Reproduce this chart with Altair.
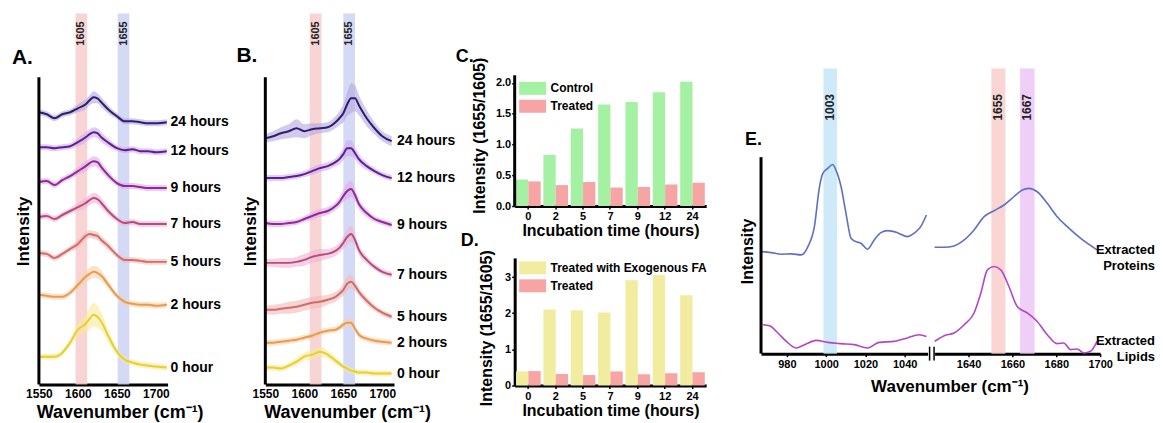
import altair as alt
import pandas as pd

FONT = "Liberation Sans"

# ---------------- shared series ----------------
SERIES = ["0 hour", "2 hours", "5 hours", "7 hours", "9 hours", "12 hours", "24 hours"]
LINE_COLORS = ["#e6cf2f", "#e89a52", "#d06c6a", "#b64b7f", "#8c2b94", "#5c1f8d", "#2e1d6d"]
FILL_COLORS = ["#f8ea98", "#f9d0a4", "#f2b9b5", "#eeb3d0", "#e3a6ea", "#cfa8ee", "#b4a7e0"]

# ---------------- Panel A (control spectra) ----------------
A_WN = [1550, 1560, 1570, 1580, 1590, 1600, 1610, 1615, 1620, 1625, 1630, 1640, 1650, 1660, 1670, 1680, 1690, 1700, 1714]
A_0H = [26, 26, 26, 30, 40, 53, 59, 64, 68, 66, 61, 45, 31, 23, 20, 18, 17, 16, 15]
A_2H = [88, 87, 86, 86, 90, 98, 106, 109, 111, 110, 107, 97, 87, 81, 79, 78, 78, 77, 78]
A_5H = [130, 129, 125, 129, 134, 139, 147, 149, 148, 147, 143, 136, 128, 123, 123, 122, 121, 121, 121]
A_7H = [166, 167, 164, 168, 172, 176, 180, 183, 185, 184, 180, 171, 164, 160, 161, 159, 159, 159, 159]
A_9H = [201, 202, 198, 203, 207, 212, 217, 220, 222, 221, 216, 207, 200, 197, 197, 196, 195, 195, 195]
A_12H = [236, 236, 235, 236, 237, 241, 246, 249, 251, 250, 246, 240, 235, 233, 234, 232, 232, 231, 232]
A_24H = [271, 269, 265, 269, 271, 275, 279, 283, 286, 285, 281, 273, 267, 262, 262, 261, 260, 260, 261]
A_SD_0H = [3, 3, 3, 3, 4, 7, 9, 11, 12, 11, 9, 6, 4, 3, 3, 3, 3, 3, 3]
A_SD_2H = [3, 3, 3, 3, 3, 4, 5, 6, 6, 6, 5, 4, 3, 3, 3, 3, 3, 3, 3]
A_SD_5H = [3, 3, 3, 3, 3, 4, 4, 4, 4, 4, 4, 4, 3, 3, 3, 3, 3, 3, 3]
A_SD_7H = [3, 3, 3, 3, 3, 4, 5, 5, 5, 5, 5, 4, 3, 3, 3, 3, 3, 3, 3]
A_SD_9H = [3, 3, 3, 3, 3, 4, 5, 5, 5, 5, 5, 4, 3, 3, 3, 3, 3, 3, 3]
A_SD_12H = [3, 3, 3, 3, 3, 4, 5, 5, 5, 5, 5, 4, 3, 3, 3, 3, 3, 3, 3]
A_SD_24H = [3, 3, 3, 3, 3, 4, 5, 5, 6, 5, 5, 4, 3, 3, 3, 3, 3, 3, 3]
A_BAND_LABELS = ["1605", "1655"]
A_BAND_START = [1597, 1651]
A_BAND_END = [1612, 1666]

# ---------------- Panel B (treated spectra) ----------------
B_WN = [1550, 1560, 1570, 1580, 1590, 1600, 1610, 1620, 1630, 1640, 1645, 1650, 1655, 1660, 1665, 1670, 1680, 1690, 1700, 1712]
B_0H = [15, 15, 14, 17, 21, 26, 28, 31, 28, 22, 19, 16, 14, 12, 11, 10, 10, 9, 9, 9]
B_2H = [40, 40, 41, 42, 43, 45, 47, 50, 52, 53, 55, 58, 60, 60, 54, 48, 44, 42, 41, 40]
B_5H = [73, 73, 74, 75, 76, 78, 80, 81, 83, 86, 89, 93, 99, 101, 97, 91, 82, 75, 70, 66]
B_7H = [120, 120, 120, 120, 121, 123, 126, 128, 129, 132, 135, 140, 146, 149, 143, 133, 123, 116, 111, 108]
B_9H = [160, 159, 159, 160, 161, 164, 167, 170, 172, 177, 181, 187, 192, 194, 188, 179, 170, 164, 161, 158]
B_12H = [205, 205, 205, 206, 207, 209, 212, 215, 217, 221, 224, 229, 235, 235, 230, 224, 217, 212, 208, 205]
B_24H = [245, 247, 250, 252, 255, 252, 254, 255, 256, 261, 265, 270, 279, 285, 285, 278, 265, 255, 247, 242]
B_SD_0H = [3, 3, 3, 3, 4, 4, 5, 5, 4, 4, 3, 3, 3, 3, 3, 3, 3, 3, 3, 3]
B_SD_2H = [3, 3, 3, 3, 3, 3, 3, 3, 3, 3, 3, 4, 4, 4, 3, 3, 3, 3, 3, 3]
B_SD_5H = [4, 5, 5, 6, 6, 6, 6, 6, 5, 5, 5, 6, 7, 7, 5, 4, 4, 3, 3, 3]
B_SD_7H = [4, 4, 5, 5, 5, 6, 6, 6, 5, 5, 5, 6, 8, 8, 6, 5, 4, 3, 3, 3]
B_SD_9H = [3, 3, 3, 3, 3, 3, 4, 4, 4, 4, 5, 6, 8, 8, 6, 5, 4, 3, 3, 3]
B_SD_12H = [3, 3, 3, 3, 3, 3, 4, 4, 4, 4, 5, 6, 8, 8, 6, 5, 4, 3, 3, 3]
B_SD_24H = [4, 5, 6, 7, 9, 7, 6, 5, 5, 6, 7, 9, 12, 15, 13, 10, 8, 6, 5, 5]
B_BAND_LABELS = ["1605", "1655"]
B_BAND_START = [1607, 1650]
B_BAND_END = [1622, 1665]

# ---------------- Panels C and D (ratios) ----------------
HOURS = ["0", "2", "5", "7", "9", "12", "24"]
C_GROUPS = ["Control", "Treated"]
C_CONTROL = [0.43, 0.83, 1.26, 1.65, 1.69, 1.85, 2.02]
C_TREATED = [0.40, 0.34, 0.39, 0.30, 0.31, 0.35, 0.38]
D_GROUPS = ["Treated with Exogenous FA", "Treated"]
D_EXOGENOUS = [0.39, 2.10, 2.08, 2.02, 2.91, 3.06, 2.50]
D_TREATED = [0.40, 0.32, 0.29, 0.39, 0.31, 0.34, 0.37]

# ---------------- Panel E (extracts) ----------------
E_SERIES = ["Extracted Proteins", "Extracted Lipids"]
E_PROT_L_WN = [967.0, 972.0, 977.1, 982.2, 987.3, 990.7, 994.0, 996.6, 998.3, 1000.8, 1003.3, 1005.0, 1007.6,
               1010.1, 1012.7, 1015.2, 1017.7, 1021.1, 1024.5, 1027.9, 1031.3, 1036.3, 1041.4, 1044.8, 1048.2, 1051.1]
E_PROT_L = [102.3, 101.3, 99.7, 100, 99, 107.3, 127.3, 167.3, 180.7, 185.7, 189.7, 184, 167.3,
            140.7, 115.7, 112.3, 110.7, 104.7, 114, 121.3, 123.3, 121.3, 117.3, 120.7, 127.3, 139]
E_PROT_R_WN = [1624.5, 1628.9, 1633.4, 1638.0, 1642.5, 1647.1, 1651.6, 1656.2, 1660.7, 1664.5, 1667.5,
               1671.3, 1675.9, 1680.4, 1685.0, 1691.0, 1698.6]
E_PROT_R = [106.7, 106.7, 108, 114, 124, 137.3, 143.3, 149, 157.3, 164, 165.7, 162.3, 150.7, 137.3, 127.3, 115.7, 104]
E_LIP_L_WN = [967.8, 971.2, 975.4, 979.7, 984.7, 989.0, 994.9, 1000.8, 1007.6, 1014.3, 1021.1, 1027.0,
              1034.7, 1041.4, 1047.3, 1051.1]
E_LIP_L = [29, 28, 20.7, 12.3, 5.7, 9, 13.3, 11.3, 10, 9, 5.7, 11.3, 12.3, 15.7, 19, 17.3]
E_LIP_R_WN = [1624.5, 1628.9, 1633.4, 1638.0, 1642.5, 1645.6, 1648.6, 1651.6, 1654.7, 1658.4, 1662.2,
              1666.8, 1671.3, 1675.9, 1680.4, 1683.4, 1686.5, 1689.5, 1692.5, 1695.6, 1698.6]
E_LIP_R = [12.3, 18, 20.7, 29, 40.7, 60.7, 84, 87.3, 84, 67.3, 47.3, 40.7, 32.3, 19, 10, 10.7, 4, 4.7, 0.7, 2.3, 12.3]
E_BAND_LABELS = ["1003", "1655", "1667"]
E_BAND_START = [998.6, 1650.4, 1663.5]
E_BAND_END = [1005.5, 1656.8, 1670.1]


# ---------------- helpers ----------------
def letter_mark(text, x, y, size):
    return alt.Chart(alt.Data(values=[{"t": text}])).mark_text(
        align="left", baseline="middle", font=FONT, fontSize=size, fontWeight="bold", color="black"
    ).encode(x=alt.value(x), y=alt.value(y), text="t:N")


def bounds_mark(x_left, x_right):
    # invisible helper that fixes the horizontal extent of a panel in the layout
    return alt.Chart(alt.Data(values=[{"k": 1}])).mark_rule(opacity=0, strokeWidth=1).encode(
        x=alt.value(x_left), x2=alt.value(x_right), y=alt.value(0.5))


def spectra_panel(wn, vals, sds, band_labels, band_start, band_end, band_colors,
                  letter, letter_x, letter_y, title_x, b_left, b_right):
    W, H = 129, 377
    rows = []
    for name, vs, ss in zip(SERIES, vals, sds):
        for w, v, s in zip(wn, vs, ss):
            rows.append({"wn": w, "val": v, "lo": v - s, "hi": v + s, "series": name})
    df = pd.DataFrame(rows)
    ends = pd.DataFrame({"series": SERIES, "val": [vs[-1] for vs in vals]})
    bands = pd.DataFrame({"label": band_labels, "start": band_start, "end": band_end})

    xs = alt.Scale(domain=[1550, 1715], nice=False, zero=False)
    ys = alt.Scale(domain=[-2, 375], nice=False, zero=False)
    xax = alt.Axis(values=[1550, 1600, 1650, 1700], format="d", grid=False, domainColor="black", domainWidth=3,
                   ticks=False, labelFont=FONT, labelFontSize=12, labelFontWeight="bold", labelColor="black",
                   labelPadding=4, labelFlush=False, labelOverlap=False,
                   title="Wavenumber (cm⁻¹)", titleFont=FONT, titleFontSize=18, titleFontWeight="bold",
                   titleColor="black", titleX=title_x, titleY=28, titleBaseline="middle", titleAlign="center")
    yax = alt.Axis(domain=False, ticks=False, labels=False, grid=False, title="Intensity", titleFont=FONT,
                   titleFontSize=17, titleFontWeight="bold", titleColor="black", titleX=-15, titleY=223,
                   titleAngle=270, titleBaseline="middle", titleAlign="center")

    rect = alt.Chart(bands).mark_rect(opacity=0.85).encode(
        x=alt.X("start:Q", scale=xs, axis=xax), x2="end:Q", y=alt.value(5), y2=alt.value(H),
        color=alt.Color("label:N", scale=alt.Scale(domain=band_labels, range=band_colors), legend=None))
    blab = alt.Chart(bands).transform_calculate(mid="(datum.start + datum.end) / 2").mark_text(
        angle=270, font=FONT, fontSize=11, fontWeight="bold", color="#222222", baseline="middle", align="center"
    ).encode(x=alt.X("mid:Q", scale=xs, axis=xax), y=alt.value(25), text="label:N")
    area = alt.Chart(df).mark_area(fillOpacity=0.6, interpolate="monotone").encode(
        x=alt.X("wn:Q", scale=xs, axis=xax), y=alt.Y("lo:Q", scale=ys, axis=yax), y2="hi:Q",
        fill=alt.Fill("series:N", scale=alt.Scale(domain=SERIES, range=FILL_COLORS), legend=None))
    line = alt.Chart(df).mark_line(strokeWidth=2, interpolate="monotone").encode(
        x=alt.X("wn:Q", scale=xs, axis=xax), y=alt.Y("val:Q", scale=ys, axis=yax),
        stroke=alt.Stroke("series:N", scale=alt.Scale(domain=SERIES, range=LINE_COLORS), legend=None))
    labels = alt.Chart(ends).mark_text(align="left", baseline="middle", font=FONT, fontSize=14,
                                       fontWeight="bold", color="black").encode(
        x=alt.value(W + 3), y=alt.Y("val:Q", scale=ys, axis=yax), text="series:N")
    yline = alt.Chart(alt.Data(values=[{"y0": -2, "y1": 306}])).mark_rule(color="black", strokeWidth=3).encode(
        x=alt.value(0), y=alt.Y("y0:Q", scale=ys, axis=yax), y2="y1:Q")
    return alt.layer(rect, area, line, labels, blab, yline,
                     letter_mark(letter, letter_x, letter_y, 21),
                     bounds_mark(b_left, b_right)).properties(width=W, height=H)


def bar_panel(groups, vals_a, vals_b, colors, y_domain, y_values, y_format, height, native_domain, axis_top,
              title_x, title_y, legend_y, letter, letter_x, letter_y, extra=None):
    W = 192
    df = pd.DataFrame({"hour": HOURS * 2, "group": [groups[0]] * 7 + [groups[1]] * 7, "value": vals_a + vals_b})
    ys = alt.Scale(domain=y_domain, nice=False, zero=True)
    xax = alt.Axis(labelAngle=0, grid=False, domainColor="black", domainWidth=3, ticks=True, tickSize=3,
                   tickColor="black", tickWidth=1.5, labelFont=FONT, labelFontSize=11, labelFontWeight="bold",
                   labelColor="black", labelPadding=2, title="Incubation time (hours)", titleFont=FONT,
                   titleFontSize=16, titleFontWeight="bold", titleColor="black", titleX=96, titleY=25,
                   titleBaseline="middle", titleAlign="center")
    yax = alt.Axis(values=y_values, format=y_format, grid=False, domain=native_domain, domainColor="black",
                   domainWidth=3, ticks=True, tickSize=3, tickColor="black", tickWidth=1.5, labelFont=FONT,
                   labelFontSize=11, labelFontWeight="bold", labelColor="black", labelPadding=1,
                   title="Intensity (1655/1605)", titleFont=FONT, titleFontSize=16, titleFontWeight="bold",
                   titleColor="black", titleX=title_x, titleY=title_y, titleAngle=270, titleBaseline="middle",
                   titleAlign="center")
    legend = alt.Legend(orient="none", legendX=8, legendY=legend_y, title=None,
                        symbolType="M-1.35,-0.65H1.35V0.65H-1.35Z", symbolSize=400, symbolStrokeWidth=0,
                        symbolOpacity=1, labelFont=FONT, labelFontSize=12, labelFontWeight="bold",
                        labelColor="black", labelOffset=8, rowPadding=1, padding=0)
    bars = alt.Chart(df).mark_bar().encode(
        x=alt.X("hour:N", sort=HOURS, scale=alt.Scale(paddingInner=0.1, paddingOuter=0.05), axis=xax),
        xOffset=alt.XOffset("group:N", sort=groups),
        y=alt.Y("value:Q", scale=ys, axis=yax),
        color=alt.Color("group:N", sort=groups, scale=alt.Scale(domain=groups, range=colors), legend=legend))
    layers = [bars]
    if axis_top is not None:
        layers.append(alt.Chart(alt.Data(values=[{"y0": 0, "y1": axis_top}])).mark_rule(
            color="black", strokeWidth=3).encode(x=alt.value(0), y=alt.Y("y0:Q", scale=ys, axis=yax), y2="y1:Q"))
    layers.append(letter_mark(letter, letter_x, letter_y, 18))
    if extra is not None:
        layers.append(extra)
    return alt.layer(*layers).properties(width=W, height=height)


# ---------------- build panels ----------------
panel_a = spectra_panel(A_WN, [A_0H, A_2H, A_5H, A_7H, A_9H, A_12H, A_24H],
                        [A_SD_0H, A_SD_2H, A_SD_5H, A_SD_7H, A_SD_9H, A_SD_12H, A_SD_24H],
                        A_BAND_LABELS, A_BAND_START, A_BAND_END, ["#f7cccc", "#cdd3f5"],
                        "A.", -27, 50, 81, -31, 197)
panel_b = spectra_panel(B_WN, [B_0H, B_2H, B_5H, B_7H, B_9H, B_12H, B_24H],
                        [B_SD_0H, B_SD_2H, B_SD_5H, B_SD_7H, B_SD_9H, B_SD_12H, B_SD_24H],
                        B_BAND_LABELS, B_BAND_START, B_BAND_END, ["#f7cccc", "#cdd3f5"],
                        "B.", -29, 48, 82, -30, 191)

panel_c = bar_panel(C_GROUPS, C_CONTROL, C_TREATED, ["#a4f1a4", "#f6a4a4"], [0, 3.21], [0, 0.5, 1, 1.5, 2],
                    ".1f", 198, False, 2.125, -35, 127, 70, "C.", -59, 49, extra=bounds_mark(-59, 223))
panel_d = bar_panel(D_GROUPS, D_EXOGENOUS, D_TREATED, ["#f1ec9f", "#f6a4a4"], [0, 3.53], [0, 1, 2, 3],
                    "d", 128, True, None, -28, 70, 0, "D.", -54, -17)
column = alt.vconcat(panel_c, panel_d, spacing=52, bounds="flush").resolve_scale(
    x="independent", y="independent", color="independent", xOffset="independent"
).resolve_legend(color="independent")

# Panel E
EH = 346
e_ys = alt.Scale(domain=[0, 346], nice=False, zero=False)
e_stroke = alt.Stroke("series:N", scale=alt.Scale(domain=E_SERIES, range=["#5f6fc6", "#b444c8"]), legend=None)
e_band_color = alt.Color("label:N", scale=alt.Scale(domain=E_BAND_LABELS, range=["#c5e6f8", "#f8cfcc", "#ecc5f6"]),
                         legend=None)
e_left_df = pd.DataFrame({"wn": E_PROT_L_WN + E_LIP_L_WN, "val": E_PROT_L + E_LIP_L,
                          "series": [E_SERIES[0]] * len(E_PROT_L) + [E_SERIES[1]] * len(E_LIP_L)})
e_right_df = pd.DataFrame({"wn": E_PROT_R_WN + E_LIP_R_WN, "val": E_PROT_R + E_LIP_R,
                           "series": [E_SERIES[0]] * len(E_PROT_R) + [E_SERIES[1]] * len(E_LIP_R)})
e_bands = pd.DataFrame({"label": E_BAND_LABELS, "start": E_BAND_START, "end": E_BAND_END})
e_ends = pd.DataFrame({"series": E_SERIES, "val": [E_PROT_R[-1], E_LIP_R[-1]]})


def e_xaxis(values, title, title_x):
    kw = dict(values=values, format="d", grid=False, domainColor="black", domainWidth=3, ticks=True, tickSize=3,
              tickColor="black", tickWidth=1.5, labelFont=FONT, labelFontSize=11, labelFontWeight="bold",
              labelColor="black", labelPadding=2, labelFlush=False, labelOverlap=False)
    if title:
        kw.update(title=title, titleFont=FONT, titleFontSize=17, titleFontWeight="bold", titleColor="black",
                  titleX=title_x, titleY=33, titleBaseline="middle", titleAlign="center")
    else:
        kw.update(title=None)
    return alt.Axis(**kw)


el_xs = alt.Scale(domain=[966.8, 1051.7], nice=False, zero=False)
el_xax = e_xaxis([980, 1000, 1020, 1040], "Wavenumber (cm⁻¹)", 189)
el_yax = alt.Axis(domain=False, ticks=False, labels=False, grid=False, title="Intensity", titleFont=FONT,
                  titleFontSize=16, titleFontWeight="bold", titleColor="black", titleX=-14, titleY=243,
                  titleAngle=270, titleBaseline="middle", titleAlign="center")
el_bands = e_bands[e_bands["end"] < 1100]
e_left = alt.layer(
    alt.Chart(el_bands).mark_rect(opacity=0.85).encode(
        x=alt.X("start:Q", scale=el_xs, axis=el_xax), x2="end:Q", y=alt.value(60), y2=alt.value(EH),
        color=e_band_color),
    alt.Chart(el_bands).transform_calculate(mid="(datum.start + datum.end) / 2").mark_text(
        angle=270, font=FONT, fontSize=12, fontWeight="bold", color="#222222", baseline="middle", align="center"
    ).encode(x=alt.X("mid:Q", scale=el_xs, axis=el_xax), y=alt.value(99), text="label:N"),
    alt.Chart(e_left_df).mark_line(strokeWidth=1.6, interpolate="monotone").encode(
        x=alt.X("wn:Q", scale=el_xs, axis=el_xax), y=alt.Y("val:Q", scale=e_ys, axis=el_yax), stroke=e_stroke),
    alt.Chart(alt.Data(values=[{"y0": 0, "y1": 197}])).mark_rule(color="black", strokeWidth=3).encode(
        x=alt.value(0), y=alt.Y("y0:Q", scale=e_ys, axis=el_yax), y2="y1:Q"),
    alt.Chart(alt.Data(values=[{"k": 1}])).mark_rule(color="black", strokeWidth=1.5).encode(
        x=alt.value(169), y=alt.value(EH - 7), y2=alt.value(EH + 7)),
    alt.Chart(alt.Data(values=[{"k": 1}])).mark_rule(color="black", strokeWidth=1.5).encode(
        x=alt.value(173.5), y=alt.value(EH - 7), y2=alt.value(EH + 7)),
    letter_mark("E.", -16, 132, 18),
    bounds_mark(-24, 167),
).properties(width=167, height=EH)

er_xs = alt.Scale(domain=[1624.5, 1700], nice=False, zero=False)
er_xax = e_xaxis([1640, 1660, 1680, 1700], None, 0)
er_bands = e_bands[e_bands["end"] > 1100]
e_right = alt.layer(
    alt.Chart(er_bands).mark_rect(opacity=0.85).encode(
        x=alt.X("start:Q", scale=er_xs, axis=er_xax), x2="end:Q", y=alt.value(60), y2=alt.value(EH),
        color=e_band_color),
    alt.Chart(er_bands).transform_calculate(mid="(datum.start + datum.end) / 2").mark_text(
        angle=270, font=FONT, fontSize=12, fontWeight="bold", color="#222222", baseline="middle", align="center"
    ).encode(x=alt.X("mid:Q", scale=er_xs, axis=er_xax), y=alt.value(99), text="label:N"),
    alt.Chart(e_right_df).mark_line(strokeWidth=1.6, interpolate="monotone").encode(
        x=alt.X("wn:Q", scale=er_xs, axis=er_xax), y=alt.Y("val:Q", scale=e_ys, axis=None), stroke=e_stroke),
    alt.Chart(e_ends).mark_text(align="right", baseline="middle", lineBreak=" ", lineHeight=16, font=FONT,
                                fontSize=13, fontWeight="bold", color="black").encode(
        x=alt.value(166 + 55), y=alt.Y("val:Q", scale=e_ys, axis=None), text="series:N"),
    bounds_mark(0, 166),
).properties(width=166, height=EH)

panel_e = alt.hconcat(e_left, e_right, spacing=7, bounds="flush").resolve_scale(
    x="independent", y="independent", color="independent", stroke="independent")

chart = alt.hconcat(panel_a, panel_b, column, panel_e, spacing=0).resolve_scale(
    x="independent", y="independent", color="independent", fill="independent", stroke="independent"
).properties(padding=0).configure_view(stroke=None).configure_axis(grid=False)

chart.save("out.html", embed_options={"renderer": "svg", "actions": False})
